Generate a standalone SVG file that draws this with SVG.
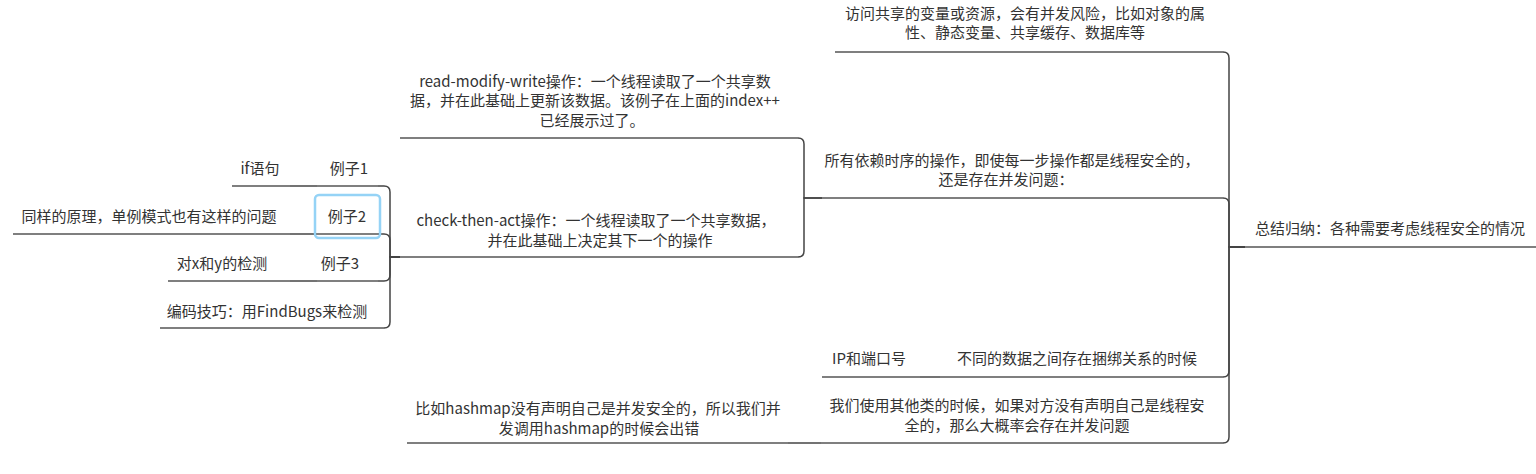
<svg xmlns="http://www.w3.org/2000/svg" width="1536" height="474" viewBox="0 0 1536 474">
<style>
text{font-family:"Noto Sans CJK SC","Liberation Sans",sans-serif;font-size:15px;fill:#333;text-anchor:middle}
.u{stroke:#555;stroke-width:1.5;fill:none}
.e{stroke:#444;stroke-width:1.5;fill:none}
.sel{fill:none;stroke:#95d3f6;stroke-width:2.5}
</style>
<rect width="1536" height="474" fill="#fff"/>
<g id="connectors">
<path class="e" d="M1245 247 H1229 V58 Q1229 52 1223 52"/>
<path class="e" d="M1245 247 H1229 V204 Q1229 198 1223 198"/>
<path class="e" d="M1245 247 H1229 V371 Q1229 377 1223 377"/>
<path class="e" d="M1245 247 H1229 V437 Q1229 443 1223 443"/>
<path class="e" d="M822 198 H804 V144 Q804 138 798 138"/>
<path class="e" d="M822 198 H804 V251 Q804 257 798 257"/>
<path class="e" d="M400 257 H390 V192 Q390 186 384 186 H378"/>
<path class="e" d="M400 257 H390 V240 Q390 234 384 234 H378"/>
<path class="e" d="M400 257 H390 V275 Q390 281 384 281 H378"/>
<path class="e" d="M400 257 H390 V322 Q390 328 384 328"/>
<path class="e" d="M317 186 H290"/>
<path class="e" d="M317 234 H290"/>
<path class="e" d="M317 281 H290"/>
<path class="e" d="M940 377 H920"/>
<path class="e" d="M821 443 H788"/>
</g>
<g id="root">
<line class="u" x1="1245" y1="247" x2="1536" y2="247"/>
<text x="1390" y="234">总结归纳：各种需要考虑线程安全的情况</text>
</g>
<g id="access">
<line class="u" x1="835" y1="52" x2="1223" y2="52"/>
<text x="1025" y="19">访问共享的变量或资源，会有并发风险，比如对象的属</text>
<text x="1025" y="38">性、静态变量、共享缓存、数据库等</text>
</g>
<g id="timing">
<line class="u" x1="822" y1="198" x2="1223" y2="198"/>
<text x="1012" y="166">所有依赖时序的操作，即使每一步操作都是线程安全的，</text>
<text x="1006" y="185">还是存在并发问题：</text>
</g>
<g id="rmw">
<line class="u" x1="400" y1="138" x2="798" y2="138"/>
<text x="595" y="87">read-modify-write操作：一个线程读取了一个共享数</text>
<text x="595" y="106">据，并在此基础上更新该数据。该例子在上面的index++</text>
<text x="592" y="126">已经展示过了。</text>
</g>
<g id="cta">
<line class="u" x1="400" y1="257" x2="798" y2="257"/>
<text x="596" y="226">check-then-act操作：一个线程读取了一个共享数据，</text>
<text x="600" y="246">并在此基础上决定其下一个的操作</text>
</g>
<g id="ex1">
<line class="u" x1="317" y1="186" x2="378" y2="186"/>
<text x="349" y="174">例子1</text>
</g>
<g id="if">
<line class="u" x1="232" y1="186" x2="290" y2="186"/>
<text x="260" y="174">if语句</text>
</g>
<g id="ex2">
<line class="u" x1="317" y1="234" x2="378" y2="234"/>
<rect class="sel" x="315" y="195" width="65" height="43" rx="4"/>
<text x="347" y="222">例子2</text>
</g>
<g id="singleton">
<line class="u" x1="13" y1="234" x2="290" y2="234"/>
<text x="149" y="222">同样的原理，单例模式也有这样的问题</text>
</g>
<g id="ex3">
<line class="u" x1="317" y1="281" x2="378" y2="281"/>
<text x="340" y="269">例子3</text>
</g>
<g id="xy">
<line class="u" x1="168" y1="281" x2="290" y2="281"/>
<text x="222" y="269">对x和y的检测</text>
</g>
<g id="findbugs">
<line class="u" x1="160" y1="328" x2="384" y2="328"/>
<text x="267" y="317">编码技巧：用FindBugs来检测</text>
</g>
<g id="bind">
<line class="u" x1="940" y1="377" x2="1223" y2="377"/>
<text x="1077" y="364">不同的数据之间存在捆绑关系的时候</text>
</g>
<g id="ip">
<line class="u" x1="822" y1="377" x2="920" y2="377"/>
<text x="869" y="364">IP和端口号</text>
</g>
<g id="other">
<line class="u" x1="821" y1="443" x2="1223" y2="443"/>
<text x="1017" y="411">我们使用其他类的时候，如果对方没有声明自己是线程安</text>
<text x="1017" y="431">全的，那么大概率会存在并发问题</text>
</g>
<g id="hashmap">
<line class="u" x1="407" y1="443" x2="788" y2="443"/>
<text x="598" y="414">比如hashmap没有声明自己是并发安全的，所以我们并</text>
<text x="599" y="434">发调用hashmap的时候会出错</text>
</g>
</svg>
